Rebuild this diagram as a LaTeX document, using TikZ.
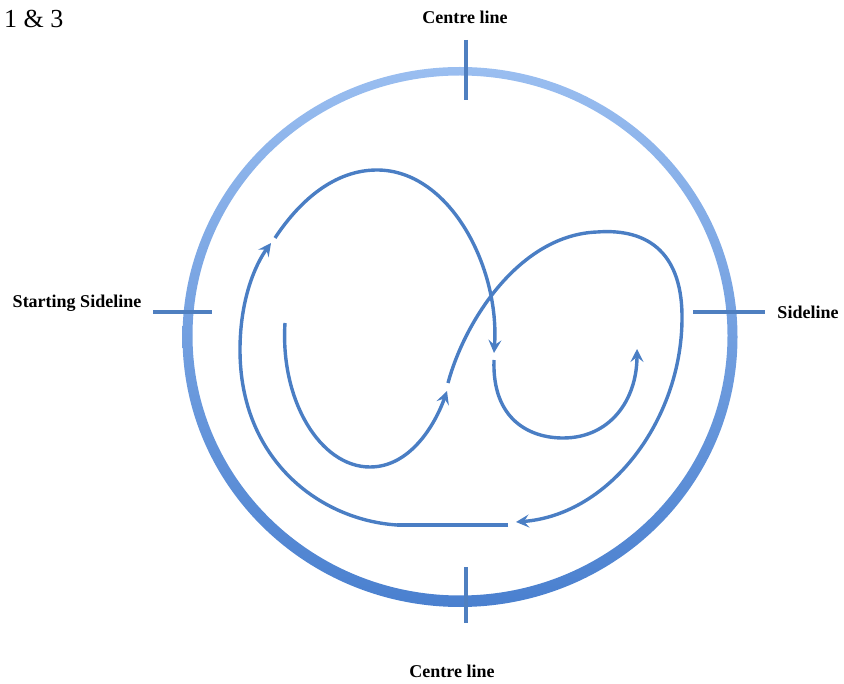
\documentclass[tikz,border=0pt]{standalone}
\usepackage{fontspec}
\setmainfont{Liberation Serif}
\usetikzlibrary{arrows.meta}
\definecolor{ringtop}{HTML}{9ABEF0}
\definecolor{ringbot}{HTML}{4A80CF}
\definecolor{pathblue}{HTML}{4A7EC4}
\definecolor{tickblue}{HTML}{4F7FC0}
\tikzset{
  route/.style={draw=pathblue, line width=3.4pt, line cap=butt},
  routearrow/.style={route, -{Stealth[length=13pt,width=13pt,inset=5pt]}},
  tickmark/.style={draw=tickblue, line width=3.8pt},
  lbl/.style={font=\fontsize{18}{20}\selectfont\bfseries, text=black, inner sep=0pt},
}
\begin{document}
\begin{tikzpicture}[x=1pt,y=-1pt]
\useasboundingbox (0,0) rectangle (844,684);
% ring
\shade[top color=ringtop, bottom color=ringbot, even odd rule]
  (460,337) ellipse [x radius=277.5, y radius=270]
  (460,335.5) ellipse [x radius=267.5, y radius=260];
% ticks
\coordinate (t1) at (466,40); \coordinate (t2) at (466,100);
\coordinate (b1) at (466,567); \coordinate (b2) at (466,623);
\coordinate (l1) at (153,312); \coordinate (l2) at (212,312);
\coordinate (r1) at (693,312); \coordinate (r2) at (765,312);
\draw[tickmark] (t1) -- (t2);
\draw[tickmark] (b1) -- (b2);
\draw[tickmark] (l1) -- (l2);
\draw[tickmark] (r1) -- (r2);
% labels
\node[inner sep=0pt, anchor=west, font=\fontsize{26}{28}\selectfont] (title) at (4,19) {1 \& 3};
\node[lbl] (ctop) at (465,17) {Centre line};
\node[lbl] (cbot) at (452,671) {Centre line};
\node[lbl] (ssl) at (77,303) {Starting Sideline};
\node[lbl] (sl) at (808,312) {Sideline};
% route segments
\coordinate (aS) at (285,323);
\coordinate (aE) at (447,391);
\draw[routearrow] (aS) .. controls (280,400) and (320,467) .. (370,467)
  .. controls (410,467) and (435,425) .. (aE);
\coordinate (bS) at (448,383);
\coordinate (bE) at (516,522);
\draw[routearrow] (bS) .. controls (465,320) and (520,235) .. (597,232)
  .. controls (650,228) and (683,255) .. (682,320)
  .. controls (681,420) and (610,515) .. (bE);
\coordinate (hR) at (508,525); \coordinate (hL) at (397,525);
\draw[route] (hR) -- (hL);
\coordinate (dE) at (271,243);
\draw[routearrow] (hL) .. controls (320,520) and (240,460) .. (240,350)
  .. controls (240,300) and (255,265) .. (dE);
\coordinate (eS) at (275,238);
\coordinate (eE) at (494,353);
\draw[routearrow] (eS) .. controls (300,200) and (335,170) .. (377,170)
  .. controls (450,170) and (500,268) .. (eE);
\coordinate (fS) at (494,360);
\coordinate (fE) at (637,349);
\draw[routearrow] (fS) .. controls (492,420) and (530,438) .. (563,438)
  .. controls (610,438) and (637,400) .. (fE);
\end{tikzpicture}
\end{document}
